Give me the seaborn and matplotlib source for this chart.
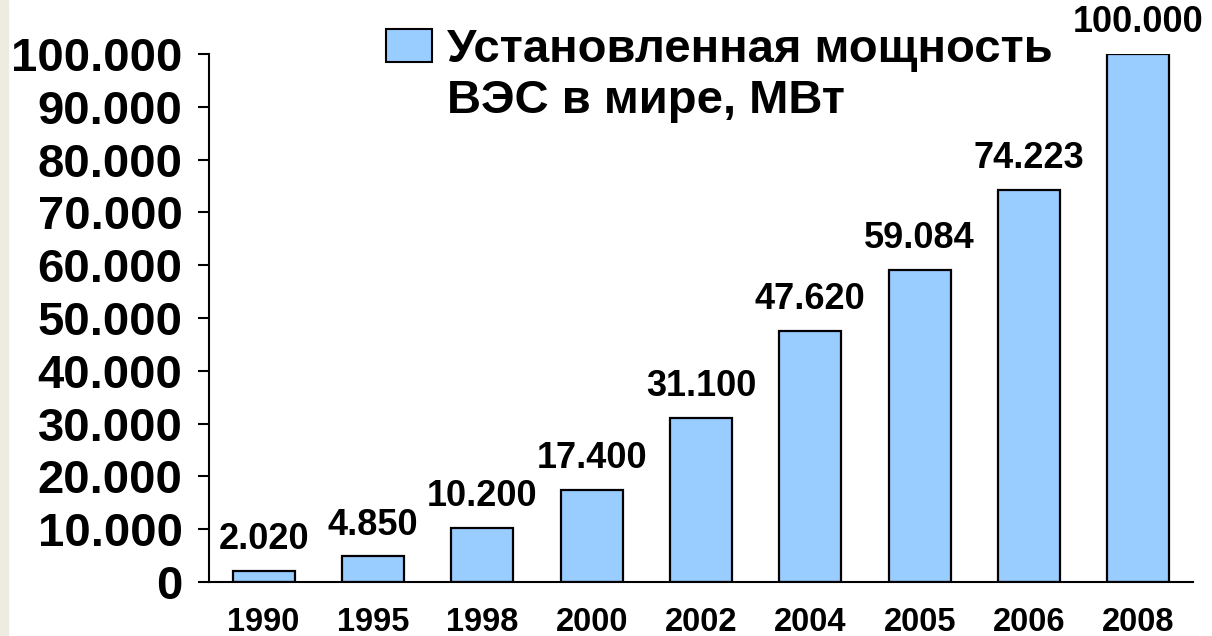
import matplotlib
matplotlib.use("Agg")
import matplotlib.pyplot as plt
from matplotlib.patches import Patch, Rectangle
from matplotlib.ticker import FuncFormatter
import pandas as pd
import seaborn as sns

years = ['1990', '1995', '1998', '2000', '2002', '2004', '2005', '2006', '2008']
capacity = [2020, 4850, 10200, 17400, 31100, 47620, 59084, 74223, 100000]
legend_lines = ['Установленная мощность', 'ВЭС в мире, МВт']
y_ticks = [0, 10000, 20000, 30000, 40000, 50000, 60000, 70000, 80000, 90000, 100000]

bar_color = '#99CCFF'


def dotted(v):
    return f"{int(v):,}".replace(",", ".")


df = pd.DataFrame({'year': years, 'mw': capacity})

sns.set_style('white')
plt.rcParams['font.family'] = ['Liberation Sans', 'DejaVu Sans']
plt.rcParams['font.weight'] = 'bold'
plt.rcParams['text.color'] = 'black'
plt.rcParams['xtick.color'] = 'black'
plt.rcParams['ytick.color'] = 'black'

fig = plt.figure(figsize=(12.12, 6.36), dpi=100)
fig.patches.append(Rectangle((0, 0), 8 / 1212, 1, transform=fig.transFigure,
                             color='#EEEBE0', zorder=0))
ax = fig.add_axes([209 / 1212, 1 - 582 / 636, 984 / 1212, 528 / 636])

sns.barplot(data=df, x='year', y='mw', ax=ax, color=bar_color, saturation=1,
            width=0.57, edgecolor='black', linewidth=1.6)

for cont in ax.containers:
    ax.bar_label(cont, labels=[dotted(v) for v in capacity], padding=10,
                 fontsize=26, fontweight='bold', color='black')

ax.set_ylim(0, 100000)
ax.set_xlim(-0.5, len(years) - 0.5)
ax.set_yticks(y_ticks)
ax.yaxis.set_major_formatter(FuncFormatter(lambda v, p: dotted(v)))
ax.set_xlabel('')
ax.set_ylabel('')

ax.tick_params(axis='y', left=True, length=8, width=1.5, pad=11, labelsize=34)
ax.tick_params(axis='x', bottom=False, length=0, pad=18, labelsize=23.5)
for lab in ax.get_xticklabels() + ax.get_yticklabels():
    lab.set_fontweight('bold')

for s in ['top', 'right']:
    ax.spines[s].set_visible(False)
for s in ['left', 'bottom']:
    ax.spines[s].set_linewidth(1.5)
    ax.spines[s].set_color('black')

handles = [Patch(facecolor=bar_color, edgecolor='black', linewidth=1.5),
           Patch(facecolor='none', edgecolor='none')]
fig.legend(handles, legend_lines, loc='upper left',
           bbox_to_anchor=(386 / 1212, 1 - 28 / 636), frameon=False,
           borderpad=0, borderaxespad=0, handlelength=0.97, handleheight=0.72,
           handletextpad=0.32, labelspacing=0.15,
           prop={'size': 34, 'weight': 'bold'})

fig.savefig('out.png', dpi=100, facecolor='white')
